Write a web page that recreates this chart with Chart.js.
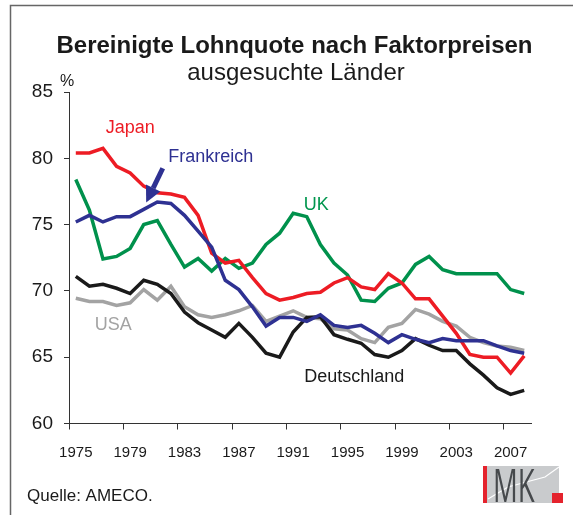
<!DOCTYPE html>
<html>
<head>
<meta charset="utf-8">
<script src="https://cdn.jsdelivr.net/npm/chart.js@4.4.0/dist/chart.umd.min.js"></script>
<style>
  body { margin: 0; background: #fff; }
  #wrap { position: relative; width: 573px; height: 515px; }
</style>
</head>
<body>
<div id="wrap"><canvas id="chart"></canvas></div>
<script>
var years = ['1975','1976','1977','1978','1979','1980','1981','1982','1983','1984','1985','1986',
  '1987','1988','1989','1990','1991','1992','1993','1994','1995','1996','1997','1998','1999',
  '2000','2001','2002','2003','2004','2005','2006','2007','2008'];

var japan = [80.4, 80.4, 80.75, 79.4, 78.9, 77.9, 77.4, 77.3, 77.05, 75.7, 72.85, 72.1, 72.3, 71.0,
  69.8, 69.3, 69.5, 69.8, 69.9, 70.6, 71.0, 70.3, 70.1, 71.3, 70.6, 69.4, 69.4, 68.1, 66.8, 65.2,
  65.0, 65.0, 63.8, 65.1];
var frankreich = [75.2, 75.7, 75.2, 75.6, 75.6, 76.15, 76.7, 76.6, 75.7, 74.5, 73.3, 70.8, 70.1, 68.8,
  67.35, 68.0, 68.0, 67.7, 68.2, 67.4, 67.25, 67.4, 66.8, 66.1, 66.7, 66.35, 66.1, 66.4, 66.25, 66.25,
  66.25, 65.85, 65.5, 65.3];
var uk = [78.4, 76.1, 72.4, 72.6, 73.2, 75.0, 75.3, 73.5, 71.8, 72.45, 71.5, 72.45, 71.7, 72.1, 73.5,
  74.35, 75.85, 75.6, 73.5, 72.1, 71.2, 69.3, 69.2, 70.2, 70.6, 72.0, 72.6, 71.6, 71.3, 71.3, 71.3,
  71.3, 70.1, 69.8];
var deutschland = [71.1, 70.35, 70.5, 70.2, 69.8, 70.8, 70.5, 69.8, 68.4, 67.6, 67.05, 66.5, 67.55, 66.5,
  65.3, 65.0, 66.9, 68.0, 68.05, 66.7, 66.35, 66.05, 65.2, 65.0, 65.5, 66.4, 65.9, 65.5, 65.5, 64.5,
  63.65, 62.7, 62.2, 62.5];
var usa = [69.45, 69.2, 69.2, 68.9, 69.1, 70.1, 69.3, 70.35, 68.8, 68.2, 68.0, 68.2, 68.5, 68.9, 67.7,
  68.1, 68.5, 68.0, 67.9, 67.15, 67.05, 66.4, 66.1, 67.25, 67.55, 68.6, 68.25, 67.7, 67.35, 66.5, 66.1,
  65.85, 65.75, 65.5];

var yTicks = [60, 65, 70, 75, 80, 85];

var titleText = 'Bereinigte Lohnquote nach Faktorpreisen';
var subtitleText = 'ausgesuchte Länder';
var sourceText = 'Quelle: AMECO.';

// series name labels, placed in data units (category index, value)
var seriesLabels = [
  { text: 'Japan', x: 4.0, y: 82.3, color: '#ed1c24' },
  { text: 'Frankreich', x: 9.93, y: 80.1, color: '#2e3192' },
  { text: 'UK', x: 17.7, y: 76.5, color: '#00964e' },
  { text: 'USA', x: 2.76, y: 67.4, color: '#a3a3a3' },
  { text: 'Deutschland', x: 20.5, y: 63.5, color: '#1a1a1a' }
];
var arrow = { from: [6.4, 79.25], to: [5.18, 76.67] };

var fam = '"Liberation Sans", Arial, sans-serif';
Chart.defaults.font.family = fam;

var extras = {
  id: 'extras',
  beforeDraw: function(chart) {
    var ctx = chart.ctx;
    ctx.save();
    ctx.fillStyle = '#fff';
    ctx.fillRect(0, 0, chart.width, chart.height);
    ctx.restore();
  },
  afterDraw: function(chart) {
    var ctx = chart.ctx, xs = chart.scales.x, ys = chart.scales.y;
    ctx.save();

    // frame
    ctx.strokeStyle = '#666';
    ctx.lineWidth = 1.5;
    ctx.beginPath();
    ctx.moveTo(10.5, 515);
    ctx.lineTo(10.5, 5.5);
    ctx.lineTo(573, 5.5);
    ctx.stroke();

    // titles
    ctx.fillStyle = '#1a1a1a';
    ctx.textAlign = 'center';
    ctx.textBaseline = 'alphabetic';
    ctx.font = 'bold 24px ' + fam;
    ctx.fillText(titleText, 294.5, 53);
    ctx.font = '24px ' + fam;
    ctx.fillText(subtitleText, 296, 80);
    ctx.font = '16px ' + fam;
    ctx.fillText('%', 67, 86);

    // series labels
    ctx.font = '18px ' + fam;
    ctx.textBaseline = 'middle';
    seriesLabels.forEach(function(l) {
      ctx.fillStyle = l.color;
      ctx.fillText(l.text, xs.getPixelForValue(l.x), ys.getPixelForValue(l.y));
    });

    // arrow to France
    var x1 = xs.getPixelForValue(arrow.from[0]), y1 = ys.getPixelForValue(arrow.from[1]);
    var x2 = xs.getPixelForValue(arrow.to[0]), y2 = ys.getPixelForValue(arrow.to[1]);
    var ang = Math.atan2(y2 - y1, x2 - x1), head = 16;
    var bx = x2 - head * Math.cos(ang), by = y2 - head * Math.sin(ang);
    ctx.strokeStyle = '#2e3192';
    ctx.fillStyle = '#2e3192';
    ctx.lineWidth = 5;
    ctx.beginPath();
    ctx.moveTo(x1, y1);
    ctx.lineTo(bx, by);
    ctx.stroke();
    ctx.beginPath();
    ctx.moveTo(x2, y2);
    ctx.lineTo(bx + 8 * Math.sin(ang), by - 8 * Math.cos(ang));
    ctx.lineTo(bx - 8 * Math.sin(ang), by + 8 * Math.cos(ang));
    ctx.closePath();
    ctx.fill();

    // source
    ctx.fillStyle = '#1a1a1a';
    ctx.textAlign = 'left';
    ctx.textBaseline = 'alphabetic';
    ctx.font = '17px ' + fam;
    ctx.fillText(sourceText, 27, 501);

    // IMK logo
    ctx.fillStyle = '#c9cbcd';
    ctx.fillRect(487, 466, 72, 37);
    ctx.strokeStyle = '#fff';
    ctx.lineWidth = 1.2;
    ctx.beginPath();
    ctx.moveTo(488, 499);
    ctx.lineTo(508, 487);
    ctx.lineTo(530, 481);
    ctx.lineTo(545, 477);
    ctx.lineTo(559, 467);
    ctx.stroke();
    ctx.fillStyle = '#e4232d';
    ctx.fillRect(483, 466, 4, 37);
    ctx.fillRect(552, 493, 11, 10);
    ctx.fillStyle = '#46494c';
    ctx.save();
    ctx.translate(493, 502);
    ctx.scale(0.6, 1);
    ctx.font = '400 46px "Open Sans", ' + fam;
    ctx.fillText('MK', 0, 0);
    ctx.restore();

    ctx.restore();
  }
};

function line(label, data, color) {
  return {
    label: label,
    data: data,
    borderColor: color,
    backgroundColor: color,
    borderWidth: 3.5,
    pointRadius: 0,
    tension: 0,
    fill: false
  };
}

new Chart(document.getElementById('chart'), {
  type: 'line',
  data: {
    labels: years,
    datasets: [
      line('Frankreich', frankreich, '#2e3192'),
      line('Japan', japan, '#ed1c24'),
      line('UK', uk, '#00914c'),
      line('Deutschland', deutschland, '#1a1a1a'),
      line('USA', usa, '#a3a3a3')
    ]
  },
  options: {
    responsive: true,
    maintainAspectRatio: false,
    animation: false,
    layout: { padding: { top: 92, right: 42, left: 0, bottom: 0 } },
    plugins: {
      legend: { display: false },
      title: { display: false },
      tooltip: { enabled: false }
    },
    scales: {
      x: {
        type: 'category',
        offset: true,
        afterFit: function(s) { s.height = 91.5; },
        grid: {
          offset: true,
          drawOnChartArea: false,
          tickLength: 6,
          tickColor: function(c) { return c.index % 4 === 0 ? '#333' : 'rgba(0,0,0,0)'; }
        },
        border: { color: '#333', width: 1 },
        ticks: {
          autoSkip: false,
          maxRotation: 0,
          padding: 14,
          color: '#1a1a1a',
          font: { size: 15 },
          callback: function(v, i) { return i % 4 === 0 ? this.getLabelForValue(v) : ''; }
        }
      },
      y: {
        min: 60,
        max: 85,
        afterFit: function(s) { s.width = 69; },
        afterBuildTicks: function(s) { s.ticks = yTicks.map(function(v) { return { value: v }; }); },
        grid: { drawOnChartArea: false, tickLength: 5, tickColor: '#333' },
        border: { color: '#333', width: 1 },
        ticks: { padding: 11, color: '#1a1a1a', font: { size: 19 } }
      }
    }
  },
  plugins: [extras]
});
</script>
</body>
</html>
